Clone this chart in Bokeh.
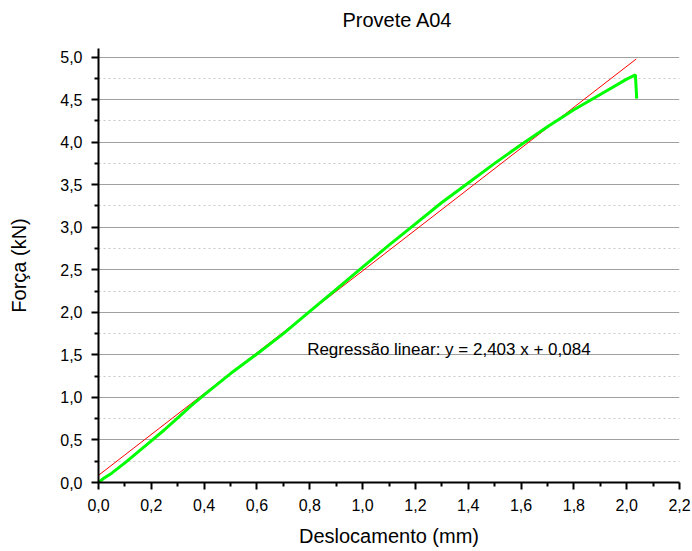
from bokeh.plotting import figure
from bokeh.models import FixedTicker, Label, Range1d, LinearAxis
from bokeh.embed import file_html
from bokeh.resources import INLINE

# Load-displacement record for specimen A04
deslocamento = [0.0, 0.02, 0.05, 0.10, 0.15, 0.20, 0.25, 0.30, 0.35, 0.40, 0.50,
                0.60, 0.70, 0.80, 0.90, 1.00, 1.10, 1.20, 1.30, 1.40, 1.50,
                1.60, 1.70, 1.80, 1.90, 2.00, 2.033, 2.038]
forca = [0.0, 0.05, 0.11, 0.23, 0.36, 0.49, 0.62, 0.76, 0.90, 1.03, 1.28,
         1.51, 1.75, 2.01, 2.27, 2.53, 2.79, 3.04, 3.29, 3.52, 3.75,
         3.97, 4.18, 4.38, 4.56, 4.74, 4.79, 4.51]

# Linear regression coefficients
declive = 2.403
ordenada = 0.084
reg_x = [0.0, 2.036]
reg_y = [declive * x + ordenada for x in reg_x]

x_ticks = [0.0, 0.2, 0.4, 0.6, 0.8, 1.0, 1.2, 1.4, 1.6, 1.8, 2.0, 2.2]
x_minor = [0.1, 0.3, 0.5, 0.7, 0.9, 1.1, 1.3, 1.5, 1.7, 1.9, 2.1]
y_ticks = [0.0, 0.5, 1.0, 1.5, 2.0, 2.5, 3.0, 3.5, 4.0, 4.5, 5.0]
y_minor = [0.25, 0.75, 1.25, 1.75, 2.25, 2.75, 3.25, 3.75, 4.25, 4.75]


def pt(v):
    return f"{v:.1f}".replace(".", ",")


FONT = "Liberation Sans"

p = figure(width=692, height=551, output_backend="svg", toolbar_location=None,
           x_range=Range1d(0, 2.2), y_range=Range1d(0, 5.1),
           min_border_left=98, min_border_right=13, min_border_bottom=69,
           min_border_top=48, title="Provete A04")
p.outline_line_color = None
p.background_fill_color = "white"
p.border_fill_color = "white"

x_axis = p.below[0]
y_axis = p.left[0]

for ax, ticks, minor in ((x_axis, x_ticks, x_minor), (y_axis, y_ticks, y_minor)):
    ax.ticker = FixedTicker(ticks=ticks, minor_ticks=minor)
    ax.major_label_overrides = {t: pt(t) for t in ticks}
    ax.axis_line_width = 2
    ax.axis_line_color = "black"
    ax.major_tick_line_width = 2
    ax.minor_tick_line_width = 2
    ax.major_tick_out = 7
    ax.major_tick_in = 0
    ax.minor_tick_out = 4
    ax.minor_tick_in = 0
    ax.major_label_text_font = FONT
    ax.major_label_text_font_size = "16px"
    ax.major_label_text_color = "black"
    ax.axis_label_text_font = FONT
    ax.axis_label_text_font_size = "20px"
    ax.axis_label_text_font_style = "normal"
    ax.axis_label_text_color = "black"

x_axis.axis_label = "Deslocamento (mm)"
y_axis.axis_label = "Força (kN)"
x_axis.major_label_standoff = 9
y_axis.major_label_standoff = 9
x_axis.axis_label_standoff = 11
y_axis.axis_label_standoff = 27

# blank spacer axis between the frame and the title
spacer = LinearAxis(ticker=FixedTicker(ticks=[1.1], minor_ticks=[]),
                    major_label_overrides={1.1: ""},
                    axis_line_color=None, major_tick_out=18, major_tick_in=0,
                    minor_tick_out=0, minor_tick_in=0,
                    major_tick_line_color=None, minor_tick_line_color=None,
                    major_label_standoff=0)
p.add_layout(spacer, "above")

p.title.align = "left"
p.title.offset = 244
p.title.text_font = FONT
p.title.text_font_size = "20px"
p.title.text_font_style = "normal"
p.title.text_color = "black"
p.title.standoff = 0

p.xgrid.visible = False
p.ygrid.grid_line_color = "#a0a0a0"
p.ygrid.grid_line_width = 1
p.ygrid.minor_grid_line_color = "#c8c8c8"
p.ygrid.minor_grid_line_dash = "2 3"
p.ygrid.minor_grid_line_width = 1

p.line(reg_x, reg_y, line_color="#ff0000", line_width=1)
p.line(deslocamento, forca, line_color="#00ff00", line_width=3)

p.add_layout(Label(x=0.79, y=1.565, text="Regressão linear: y = 2,403 x + 0,084",
                   text_font=FONT, text_font_size="17px", text_baseline="middle",
                   text_color="black"))

open("out.html", "w").write(file_html(p, INLINE))
